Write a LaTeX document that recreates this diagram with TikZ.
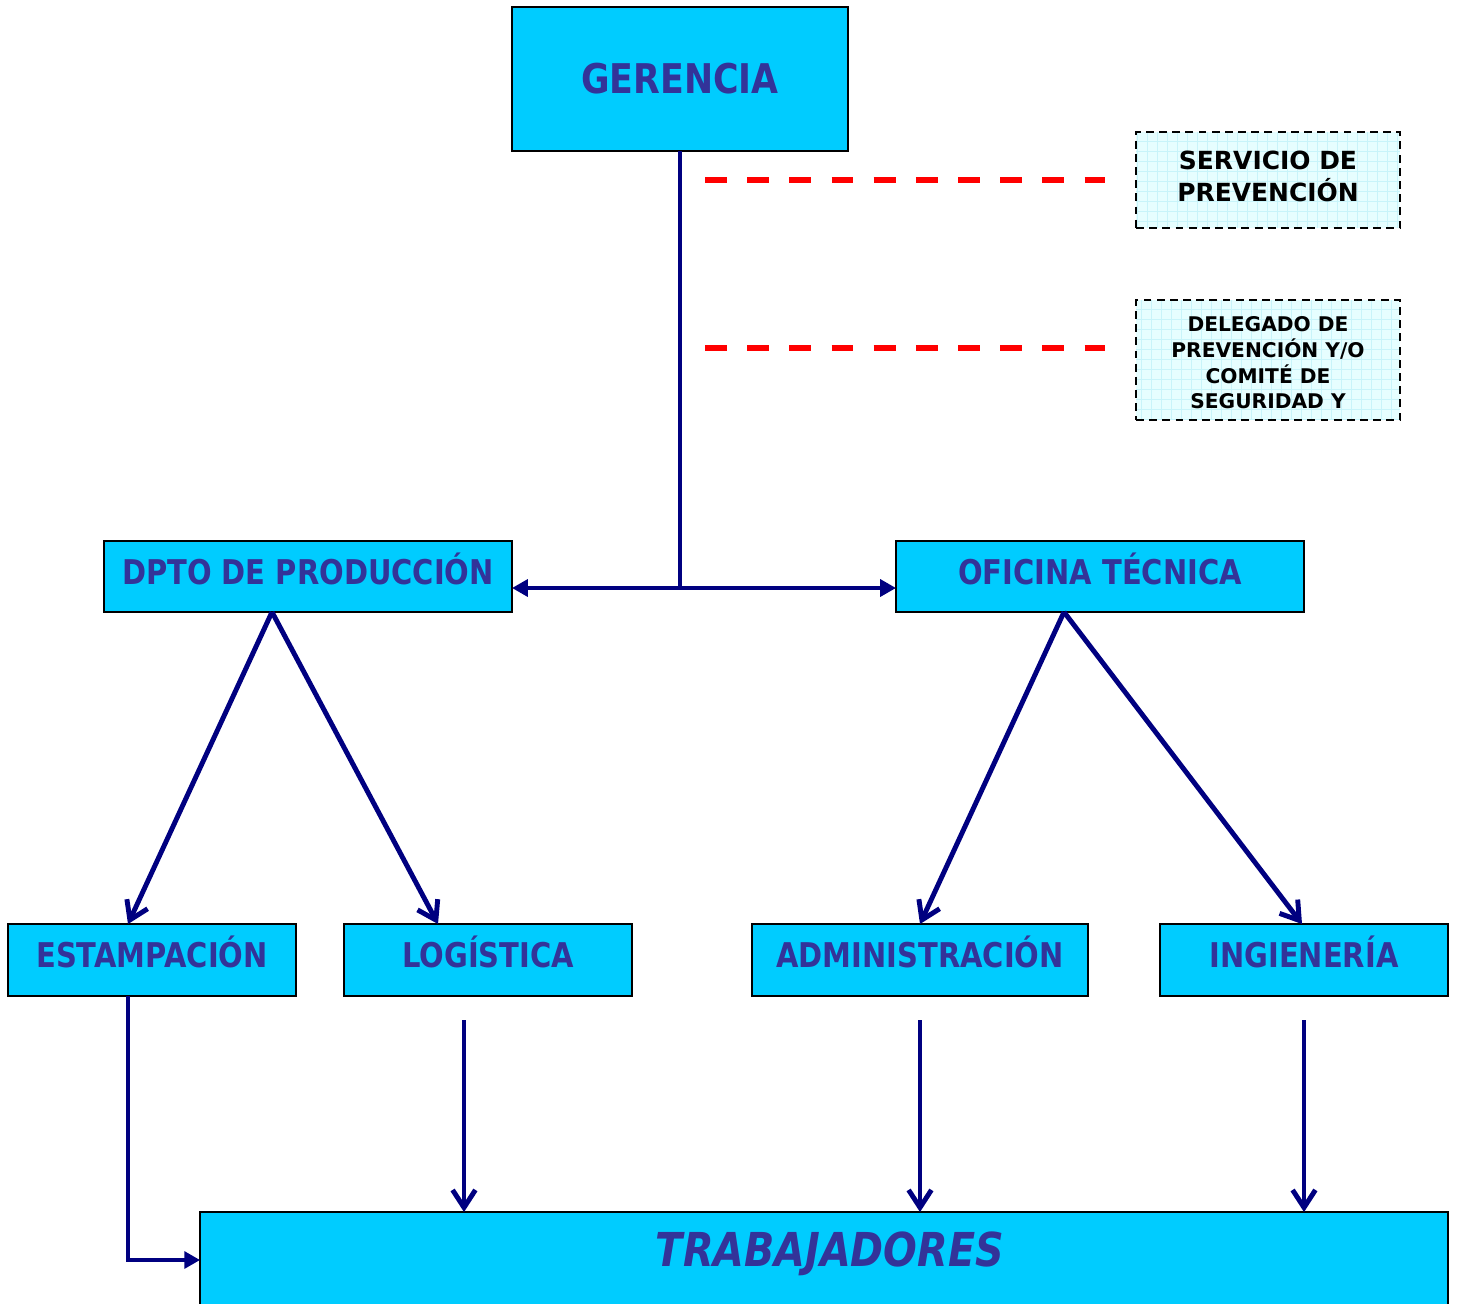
\documentclass[tikz,border=0pt]{standalone}
\usepackage{fontspec}
\setmainfont{DejaVu Sans}[FakeStretch=0.85]
\newfontfamily\notefont{DejaVu Sans}
\usetikzlibrary{arrows.meta, positioning, calc}
\definecolor{boxcyan}{HTML}{00CCFF}
\definecolor{txtblue}{HTML}{333399}
\definecolor{linenavy}{HTML}{000080}
\definecolor{notecyan}{HTML}{E6FEFF}
\definecolor{notegrid}{HTML}{C8F4FA}

\tikzset{
  orgbox/.style={draw=black, line width=1.1pt, fill=boxcyan, rectangle, inner sep=0pt, outer sep=0pt,
    text=txtblue, font=\bfseries\fontsize{19.4}{23}\selectfont, text height=20pt, text depth=11.4pt},
  notebox/.style={draw=black, line width=1pt, dash pattern=on 4.5pt off 3pt, fill=notecyan,
    inner sep=0pt, outer sep=0pt, align=center,
    path picture={\draw[notegrid, line width=0.3pt, solid] (path picture bounding box.south west) grid[step=0.2cm] (path picture bounding box.north east);}},
  link/.style={linenavy, line width=2.8pt},
  linkbarb/.style={link, -{Straight Barb[length=10pt, width=13pt, line width=2.8pt]}},
  linktri/.style={link, -{Triangle[length=9pt, width=9.5pt]}},
  reddash/.style={red, line width=3pt, dash pattern=on 12.5pt off 11.5pt}
}

\begin{document}
\begin{tikzpicture}[x=0.02cm, y=-0.02cm]
\useasboundingbox (0,0) rectangle (1457,1303);

\node[orgbox, minimum width=6.72cm, minimum height=2.88cm, font=\bfseries\fontsize{23.3}{28}\selectfont, text height=17pt, text depth=0pt] (ger) at (680,79) {GERENCIA};

\node[notebox, minimum width=5.28cm, minimum height=1.92cm, font=\notefont\bfseries\fontsize{14.2}{18.2}\selectfont, text depth=4.6pt] (serv) at (1268,180) {SERVICIO DE\\PREVENCIÓN};
\node[notebox, minimum width=5.28cm, minimum height=2.4cm, font=\notefont\bfseries\fontsize{11.5}{14.6}\selectfont, text height=55.6pt, text depth=0pt] (deleg) at (1268,360) {DELEGADO DE\\PREVENCIÓN Y/O\\COMITÉ DE\\SEGURIDAD Y};

\node[orgbox, minimum width=8.16cm, minimum height=1.42cm] (dpto) at (308,576.5) {DPTO DE PRODUCCIÓN};
\node[orgbox, minimum width=8.16cm, minimum height=1.42cm] (ofi) at (1100,576.5) {OFICINA TÉCNICA};

\node[orgbox, minimum width=5.76cm, minimum height=1.44cm] (est) at (152,960) {ESTAMPACIÓN};
\node[orgbox, minimum width=5.76cm, minimum height=1.44cm] (log) at (488,960) {LOGÍSTICA};
\node[orgbox, minimum width=6.72cm, minimum height=1.44cm] (adm) at (920,960) {ADMINISTRACIÓN};
\node[orgbox, minimum width=5.76cm, minimum height=1.44cm] (ing) at (1304,960) {INGIENERÍA};

\node[orgbox, minimum width=24.96cm, minimum height=1.92cm] (trab) at (824,1260) {};
\node[text=txtblue, font=\bfseries\itshape\fontsize{26.6}{32}\selectfont] (trabtxt) at (830,1254) {TRABAJADORES};

% dashed links to the advisory boxes
\coordinate (s1) at (705,180);
\coordinate (s2) at (1105,180);
\coordinate (d1) at (705,348);
\coordinate (d2) at (1105,348);
\draw[reddash] (s1) -- (s2);
\draw[reddash] (d1) -- (d2);

% main branch
\coordinate (split) at (680,588);
\draw[link] (ger.south) -- (split);
\draw[linktri] (split) -- (split -| dpto.east);
\draw[linktri] (split) -- (split -| ofi.west);

\coordinate (dptob) at (272,612);
\coordinate (ofib) at (1064,612);
\draw[linkbarb] (dptob) -- ([xshift=-0.48cm]est.north);
\draw[linkbarb] (dptob) -- ([xshift=-1cm]log.north);
\draw[linkbarb] (ofib) -- (adm.north);
\draw[linkbarb] (ofib) -- ([xshift=-0.04cm]ing.north);

% down to the workers
\coordinate (logb) at (464,1020);
\coordinate (admb) at (920,1020);
\coordinate (ingb) at (1304,1020);
\draw[linkbarb] (logb) -- (logb |- trab.north);
\draw[linkbarb] (admb) -- (admb |- trab.north);
\draw[linkbarb] (ingb) -- (ingb |- trab.north);
\draw[linktri] ([xshift=-0.48cm]est.south) |- (trab.west);
\end{tikzpicture}
\end{document}
